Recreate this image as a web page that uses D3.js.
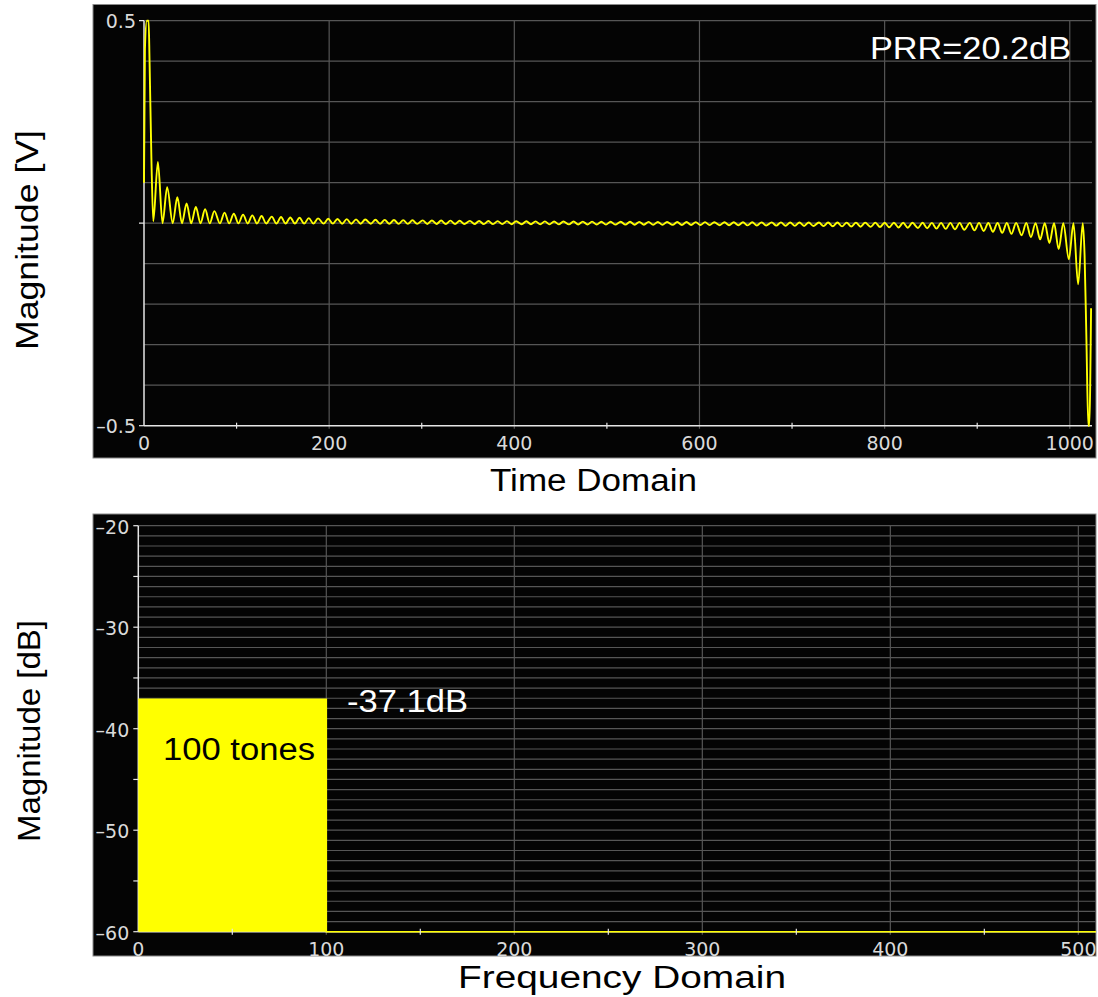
<!DOCTYPE html>
<html>
<head>
<meta charset="utf-8">
<script src="https://cdn.jsdelivr.net/npm/d3@7"></script>
<style>
  body { margin: 0; background: #fff; }
  svg { display: block; }
</style>
</head>
<body>
<script>
// Time domain trace, [sample, volts] at each peak / trough
const timeSamples = [
  [0,0.10],[1,0.43],[3,0.5],[5,0.5],[6,0.40],[8,0.16],[10,0.005],
  [15,0.151],[20,0],[25,0.089],[31,0],[36,0.064],[41,0],[46,0.049],[51,-0.0003],
  [56,0.040],[61,-0.0003],[66,0.0343],[71,-0.0004],[76,0.0297],[82,-0.0004],[87,0.0262],
  [92,-0.0005],[97,0.0234],[102,-0.0005],[107,0.0211],[112,-0.0006],[117,0.0192],[122,-0.0007],
  [127,0.0177],[132,-0.0007],[138,0.0163],[143,-0.0008],[148,0.0152],[153,-0.0008],[158,0.0141],
  [163,-0.0009],[168,0.0133],[173,-0.0009],[178,0.0125],[183,-0.0010],[188,0.0118],[194,-0.0010],
  [199,0.0111],[204,-0.0011],[209,0.0105],[214,-0.0012],[219,0.0100],[224,-0.0012],[229,0.0095],
  [234,-0.0013],[239,0.0091],[245,-0.0014],[250,0.0087],[255,-0.0014],[260,0.0083],[265,-0.0015],
  [270,0.0079],[275,-0.0016],[280,0.0076],[285,-0.0016],[290,0.0073],[295,-0.0017],[301,0.0070],
  [306,-0.0018],[311,0.0068],[316,-0.0018],[321,0.0065],[326,-0.0019],[331,0.0063],[336,-0.0020],
  [341,0.0060],[346,-0.0021],[352,0.0058],[357,-0.0021],[362,0.0056],[367,-0.0022],[372,0.0054],
  [377,-0.0023],[382,0.0052],[387,-0.0024],[392,0.0051],[397,-0.0025],[402,0.0049],[408,-0.0025],
  [413,0.0048],[418,-0.0026],[423,0.0046],[428,-0.0027],[433,0.0044],[438,-0.0028],[443,0.0043],
  [448,-0.0029],[453,0.0042],[459,-0.0030],[464,0.0041],[469,-0.0031],[474,0.0039],[479,-0.0032],
  [484,0.0038],[489,-0.0033],[494,0.0037],[499,-0.0034],[504,0.0036],[509,-0.0035],
  [515,0.0035],[520,-0.0036],[525,0.0034],[530,-0.0037],[535,0.0033],[540,-0.0038],[545,0.0032],
  [550,-0.0039],[555,0.0031],[560,-0.0041],[565,0.0030],[571,-0.0042],[576,0.0029],[581,-0.0043],
  [586,0.0028],[591,-0.0044],[596,0.0027],[601,-0.0046],[606,0.0026],[611,-0.0048],[616,0.0025],
  [622,-0.0049],[627,0.0025],[632,-0.0051],[637,0.0024],[642,-0.0052],[647,0.0023],[652,-0.0054],
  [657,0.0022],[662,-0.0056],[667,0.0021],[672,-0.0058],[678,0.0021],[683,-0.0060],[688,0.0020],
  [693,-0.0063],[698,0.0019],[703,-0.0065],[708,0.0018],[713,-0.0068],[718,0.0018],[723,-0.0070],
  [729,0.0017],[734,-0.0073],[739,0.0016],[744,-0.0076],[749,0.0016],[754,-0.0079],[759,0.0015],
  [764,-0.0083],[769,0.0014],[774,-0.0087],[779,0.0014],[785,-0.0091],[790,0.0013],[795,-0.0095],
  [800,0.0012],[805,-0.0100],[810,0.0012],[815,-0.0105],[820,0.0011],[825,-0.0111],[830,0.0010],
  [836,-0.0118],[841,0.0010],[846,-0.0125],[851,0.0009],[856,-0.0133],[861,0.0009],[866,-0.0141],
  [871,0.0008],[876,-0.0152],[881,0.0008],[886,-0.0163],[892,0.0007],[897,-0.0177],[902,0.0007],
  [907,-0.0192],[912,0.0006],[917,-0.0211],[922,0.0005],[927,-0.0234],[932,0.0005],[937,-0.0262],
  [942,0.0004],[948,-0.0297],[953,0.0004],[958,-0.0343],[963,0.0003],[968,-0.040],[973,0.0003],
  [978,-0.049],[983,0],[988,-0.064],[993,0],[999,-0.089],[1004,0],[1009,-0.151],
  [1014,0],[1016,-0.08],[1018,-0.29],[1020,-0.5],[1021,-0.5],[1023,-0.21]
];
const timeTicks = [0, 200, 400, 600, 800, 1000];
const timeMinorTicks = [100, 300, 500, 700, 900];
const voltTicks = [0.5, 0, -0.5];
const voltLabels = [0.5, -0.5];

// Frequency domain: 100 tones at -37.1 dB, floor at -60 dB
const freqBins = [0, 100, 100, 512];
const freqDb = [-37.1, -37.1, -60, -60];
const freqTicks = [0, 100, 200, 300, 400, 500];
const freqMinorTicks = [50, 150, 250, 350, 450];
const dbTicks = [-20, -30, -40, -50, -60];
const dbMinorTicks = [-25, -35, -45, -55];

const W = 1098, H = 997;
const TRACE = "#ffff00", GRID = "#565656", AXIS = "#e6e6e6", LABEL = "#dadada";
const fmt = d => d < 0 ? "\u2013" + Math.abs(d) : String(d);

const svg = d3.select("body").append("svg")
  .attr("width", W).attr("height", H)
  .attr("viewBox", [0, 0, W, H]);

function panel(id, box) {
  svg.append("clipPath").attr("id", id)
    .append("rect").attr("x", box.x).attr("y", box.y).attr("width", box.w).attr("height", box.h);
  svg.append("rect")
    .attr("x", box.x).attr("y", box.y).attr("width", box.w).attr("height", box.h)
    .attr("fill", "#040404").attr("stroke", "#8a8a8a").attr("stroke-width", 1);
  return svg.append("g").attr("clip-path", `url(#${id})`);
}

function bigText(g, text, x, y, len, opts = {}) {
  const t = g.append("text")
    .attr("x", x).attr("y", y)
    .attr("font-family", "Liberation Sans, Arial, sans-serif")
    .attr("font-size", opts.size || 31)
    .attr("fill", opts.fill || "#000")
    .attr("textLength", len).attr("lengthAdjust", "spacingAndGlyphs")
    .text(text);
  if (opts.rotate) t.attr("transform", `rotate(-90, ${x}, ${y})`);
  return t;
}

// ---------- top: time domain ----------
const topBox = { x: 93, y: 4.5, w: 1003, h: 453.5 };
const gT = panel("clipTop", topBox);

const xT = d3.scaleLinear().domain([0, 1024]).range([144, 1092]);
const yT = d3.scaleLinear().domain([-0.5, 0.5]).range([425.7, 20.7]);

gT.append("g").selectAll("line").data(yT.ticks(10).filter(d => d > -0.5)).join("line")
  .attr("x1", xT(0)).attr("x2", xT(1024))
  .attr("y1", d => yT(d)).attr("y2", d => yT(d))
  .attr("stroke", GRID).attr("stroke-width", 1.2);

gT.append("g").selectAll("line").data(timeTicks.filter(d => d > 0)).join("line")
  .attr("x1", d => xT(d)).attr("x2", d => xT(d))
  .attr("y1", yT(0.5)).attr("y2", yT(-0.5) + 3)
  .attr("stroke", GRID).attr("stroke-width", 1.2);

// axes
gT.append("line").attr("x1", xT(0)).attr("x2", xT(1024))
  .attr("y1", yT(-0.5)).attr("y2", yT(-0.5)).attr("stroke", AXIS).attr("stroke-width", 1.5);
gT.append("line").attr("x1", xT(0)).attr("x2", xT(0))
  .attr("y1", yT(0.5)).attr("y2", yT(-0.5)).attr("stroke", AXIS).attr("stroke-width", 1.5);

gT.append("g").selectAll("line").data(timeMinorTicks).join("line")
  .attr("x1", d => xT(d)).attr("x2", d => xT(d))
  .attr("y1", yT(-0.5) - 3).attr("y2", yT(-0.5) + 3)
  .attr("stroke", AXIS).attr("stroke-width", 1.2);
gT.append("g").selectAll("line").data(voltTicks).join("line")
  .attr("x1", xT(0) - 5).attr("x2", xT(0))
  .attr("y1", d => yT(d)).attr("y2", d => yT(d))
  .attr("stroke", AXIS).attr("stroke-width", 1.2);

gT.append("g").selectAll("text").data(timeTicks).join("text")
  .attr("x", d => xT(d)).attr("y", yT(-0.5) + 24)
  .attr("text-anchor", "middle")
  .attr("font-family", "DejaVu Sans, sans-serif").attr("font-size", 19)
  .attr("fill", LABEL).text(fmt);
gT.append("g").selectAll("text").data(voltLabels).join("text")
  .attr("x", xT(0) - 8).attr("y", d => yT(d) + 7)
  .attr("text-anchor", "end")
  .attr("font-family", "DejaVu Sans, sans-serif").attr("font-size", 19)
  .attr("fill", LABEL).text(fmt);

gT.append("path")
  .datum(timeSamples)
  .attr("fill", "none").attr("stroke", TRACE).attr("stroke-width", 1.9)
  .attr("stroke-linejoin", "round")
  .attr("d", d3.line().x(d => xT(d[0])).y(d => yT(d[1])).curve(d3.curveMonotoneX));

bigText(gT, "PRR=20.2dB", 870, 59, 201, { fill: "#fff" });

// ---------- bottom: frequency domain ----------
const botBox = { x: 93, y: 514, w: 1003, h: 442 };
const gB = panel("clipBot", botBox);

const xB = d3.scaleLinear().domain([0, 512]).range([138.3, 1100.9]);
const yB = d3.scaleLinear().domain([-60, -20]).range([931.7, 525.7]);

gB.append("g").selectAll("line").data(yB.ticks(40).filter(d => d > -60)).join("line")
  .attr("x1", xB(0)).attr("x2", xB(512))
  .attr("y1", d => yB(d)).attr("y2", d => yB(d))
  .attr("stroke", GRID).attr("stroke-width", 1.2);
gB.append("g").selectAll("line").data(freqTicks.filter(d => d > 0)).join("line")
  .attr("x1", d => xB(d)).attr("x2", d => xB(d))
  .attr("y1", yB(-20)).attr("y2", yB(-60) + 3)
  .attr("stroke", GRID).attr("stroke-width", 1.2);

gB.append("line").attr("x1", xB(0)).attr("x2", xB(0))
  .attr("y1", yB(-20)).attr("y2", yB(-60)).attr("stroke", AXIS).attr("stroke-width", 1.5);
gB.append("line").attr("x1", xB(0)).attr("x2", xB(512))
  .attr("y1", yB(-60)).attr("y2", yB(-60)).attr("stroke", AXIS).attr("stroke-width", 1.5);

gB.append("path")
  .datum(freqBins.map((b, i) => [b, freqDb[i]]))
  .attr("fill", TRACE)
  .attr("d", d3.area().x(d => xB(d[0])).y0(yB(-60)).y1(d => yB(d[1])));
gB.append("path")
  .datum(freqBins.map((b, i) => [b, freqDb[i]]))
  .attr("fill", "none").attr("stroke", TRACE).attr("stroke-width", 1.6)
  .attr("d", d3.line().x(d => xB(d[0])).y(d => yB(d[1])));

gB.append("g").selectAll("line").data(freqMinorTicks).join("line")
  .attr("x1", d => xB(d)).attr("x2", d => xB(d))
  .attr("y1", yB(-60) - 3).attr("y2", yB(-60) + 3)
  .attr("stroke", AXIS).attr("stroke-width", 1.2);
gB.append("g").selectAll("line").data(dbTicks.concat(dbMinorTicks)).join("line")
  .attr("x1", xB(0) - 5).attr("x2", xB(0))
  .attr("y1", d => yB(d)).attr("y2", d => yB(d))
  .attr("stroke", AXIS).attr("stroke-width", 1.2);

gB.append("g").selectAll("text").data(freqTicks).join("text")
  .attr("x", d => xB(d)).attr("y", yB(-60) + 24)
  .attr("text-anchor", "middle")
  .attr("font-family", "DejaVu Sans, sans-serif").attr("font-size", 19)
  .attr("fill", LABEL).text(fmt);
gB.append("g").selectAll("text").data(dbTicks).join("text")
  .attr("x", xB(0) - 9).attr("y", d => yB(d) + 8)
  .attr("text-anchor", "end")
  .attr("font-family", "DejaVu Sans, sans-serif").attr("font-size", 19)
  .attr("fill", LABEL).text(fmt);

bigText(gB, "100 tones", 163, 760, 152, { fill: "#000" });
bigText(gB, "-37.1dB", 347, 712, 121, { fill: "#fff" });

// ---------- axis titles ----------
const gO = svg.append("g");
bigText(gO, "Magnitude [V]", 38, 350, 220, { rotate: true });
bigText(gO, "Time Domain", 490, 491, 207);
bigText(gO, "Magnitude [dB]", 40, 842, 222, { rotate: true });
bigText(gO, "Frequency Domain", 458, 988, 328);
</script>
</body>
</html>
